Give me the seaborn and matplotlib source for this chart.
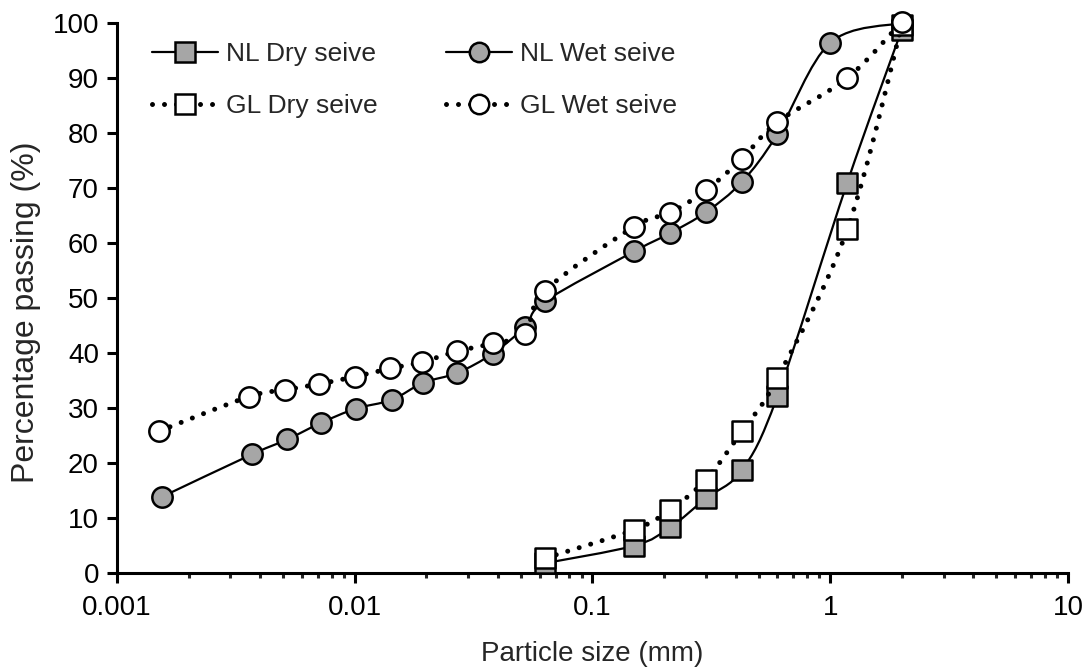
import numpy as np
import matplotlib
matplotlib.use("Agg")
import matplotlib.pyplot as plt
import seaborn as sns
from matplotlib.path import Path
from matplotlib.patches import PathPatch
from matplotlib.lines import Line2D
from matplotlib.ticker import LogLocator, NullFormatter, FuncFormatter

# dry sieve (mm) and % passing
dry_size = [0.063, 0.15, 0.212, 0.3, 0.425, 0.6, 1.18, 2.0]
nl_dry = [1.8, 5.0, 8.3, 13.6, 18.7, 32.2, 71.0, 98.8]
gl_dry = [2.7, 7.9, 11.5, 17.0, 25.8, 35.5, 62.5, 99.6]

# wet sieve + hydrometer
nl_wet_size = [0.00155, 0.0037, 0.0052, 0.0072, 0.0101, 0.0143, 0.0194, 0.027, 0.038,
               0.052, 0.063, 0.15, 0.212, 0.3, 0.425, 0.6, 1.0, 2.0]
nl_wet = [13.9, 21.6, 24.3, 27.3, 29.9, 31.5, 34.6, 36.4, 39.9,
          44.8, 49.4, 58.5, 61.8, 65.6, 71.1, 79.8, 96.4, 100.0]
gl_wet_size = [0.0015, 0.0036, 0.0051, 0.0071, 0.01, 0.0141, 0.0192, 0.0269, 0.0383,
               0.052, 0.063, 0.15, 0.212, 0.3, 0.425, 0.6, 1.18, 2.0]
gl_wet = [25.8, 32.1, 33.3, 34.4, 35.7, 37.2, 38.4, 40.3, 41.8,
          43.5, 51.3, 63.0, 65.5, 69.6, 75.3, 82.0, 90.0, 100.2]

x_ticks = [0.001, 0.01, 0.1, 1, 10]
y_ticks = list(range(0, 101, 10))

GREY = "#a6a6a6"
DOTS = (0, (0.001, 2.4))
FS = 20

sns.set_style("ticks")
plt.rcParams["font.family"] = ["Liberation Sans", "DejaVu Sans"]


def smooth_path(xs, ys):
    # excel-like smoothed line, catmull-rom in log-x space
    lx = np.log10(xs)
    y = np.asarray(ys, dtype=float)
    n = len(lx)
    verts = [(xs[0], ys[0])]
    codes = [Path.MOVETO]
    for i in range(n - 1):
        a = i - 1 if i > 0 else i
        b = i + 2 if i + 2 < n else i + 1
        c1 = (10 ** (lx[i] + (lx[i + 1] - lx[a]) / 6), y[i] + (y[i + 1] - y[a]) / 6)
        c2 = (10 ** (lx[i + 1] - (lx[b] - lx[i]) / 6), y[i + 1] - (y[b] - y[i]) / 6)
        verts += [c1, c2, (xs[i + 1], ys[i + 1])]
        codes += [Path.CURVE4] * 3
    return Path(verts, codes)


fig, ax = plt.subplots(figsize=(10.88, 6.68), dpi=100)
fig.subplots_adjust(left=0.1075, right=0.9816, bottom=0.142, top=0.9656)
ax.set_xscale("log")

series = [
    (dry_size, nl_dry, "s", GREY, "-", 1.6),
    (nl_wet_size, nl_wet, "o", GREY, "-", 1.6),
    (dry_size, gl_dry, "s", "white", DOTS, 3.6),
    (gl_wet_size, gl_wet, "o", "white", DOTS, 3.6),
]
z = 2
for xs, ys, mk, fc, ls, lw in series:
    patch = PathPatch(smooth_path(xs, ys), fill=False, edgecolor="black", lw=lw,
                      linestyle=ls, capstyle="round", zorder=z)
    ax.add_patch(patch)
    sns.scatterplot(x=xs, y=ys, marker=mk, s=215, color=fc, edgecolor="black",
                    linewidth=1.8, zorder=z + 1, ax=ax, legend=False)
    z += 2
for coll in ax.collections:
    coll.set_clip_on(False)

ax.set_xlim(0.001, 10)
ax.set_ylim(0, 100)
ax.set_xticks(x_ticks)
ax.xaxis.set_major_formatter(FuncFormatter(lambda v, p: f"{v:g}"))
ax.xaxis.set_minor_locator(LogLocator(base=10, subs=np.arange(2, 10)))
ax.xaxis.set_minor_formatter(NullFormatter())
ax.set_yticks(y_ticks)

for s in ["top", "right"]:
    ax.spines[s].set_visible(False)
for s in ["left", "bottom"]:
    ax.spines[s].set_linewidth(2.2)
    ax.spines[s].set_color("black")
ax.tick_params(axis="both", which="major", direction="out", width=2.2, length=7,
               labelsize=FS, colors="black", pad=6)
ax.tick_params(axis="x", which="major", pad=9)
ax.tick_params(axis="x", which="minor", direction="out", width=2.2, length=3.8)

ax.set_xlabel("Particle size (mm)", fontsize=FS, labelpad=14)
ax.set_ylabel("Percentage passing (%)", fontsize=23)
ax.yaxis.set_label_coords(-0.08, 0.475)

handles = [
    Line2D([], [], color="black", lw=1.6, marker="s", ms=14, mfc=GREY, mec="black", mew=1.8),
    Line2D([], [], color="black", lw=3.6, ls=DOTS, dash_capstyle="round", marker="s", ms=14,
           mfc="white", mec="black", mew=1.8),
    Line2D([], [], color="black", lw=1.6, marker="o", ms=14, mfc=GREY, mec="black", mew=1.8),
    Line2D([], [], color="black", lw=3.6, ls=DOTS, dash_capstyle="round", marker="o", ms=14,
           mfc="white", mec="black", mew=1.8),
]
labels = ["NL Dry seive", "GL Dry seive", "NL Wet seive", "GL Wet seive"]
ax.legend(handles, labels, ncol=2, loc="upper left", bbox_to_anchor=(0.037, 0.965),
          frameon=False, fontsize=19, handlelength=2.5, handletextpad=0.3,
          columnspacing=2.6, labelspacing=1.05, borderpad=0, borderaxespad=0)

fig.savefig("out.png", dpi=100)
